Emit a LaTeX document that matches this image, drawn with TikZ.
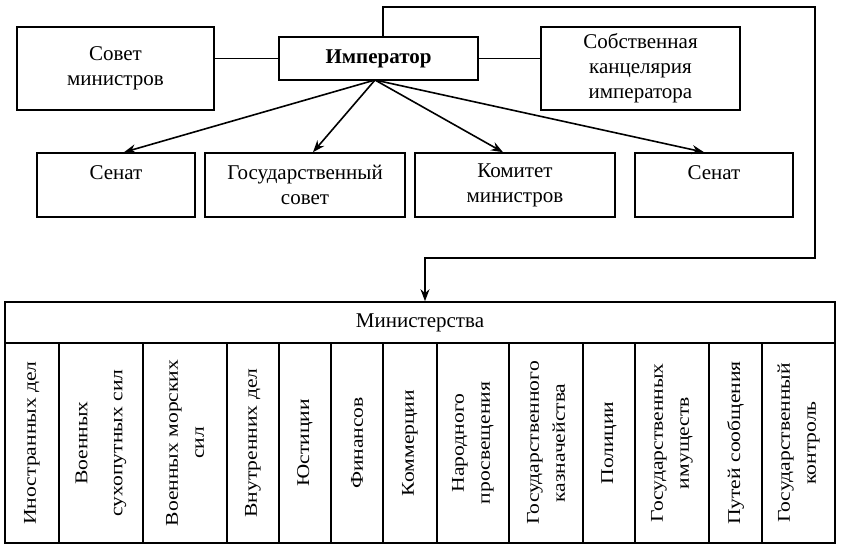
\documentclass[tikz,border=0pt]{standalone}
\usepackage{fontspec}
\setmainfont{Liberation Serif}
\newfontfamily\colfont[FakeStretch=1.2]{Liberation Serif}
\usetikzlibrary{arrows.meta}
\begin{document}
\begin{tikzpicture}[x=1pt,y=-1pt,
  box/.style={draw,line width=1.6pt,inner sep=0pt,align=center,
    font=\fontsize{21}{25}\selectfont},
  colbox/.style={draw,line width=1.6pt,inner sep=0pt,align=center,rotate=90,
    minimum width=200pt,font=\colfont\fontsize{18}{26}\selectfont},
  conn/.style={line width=1.6pt},
  arr/.style={line width=1.6pt,-{Stealth[length=12pt,width=9pt]}}
]
\useasboundingbox (0,0) rectangle (842,552);
\fill[white] (0,0) rectangle (842,552);
% top row
\node[box,minimum width=197pt,minimum height=83pt] (sov) at (115.5,68.5) {Совет\\министров};
\node[box,minimum width=199pt,minimum height=43pt,font=\bfseries\fontsize{21}{25}\selectfont] (imp) at (378.5,58.5) {Император};
\node[box,minimum width=199pt,minimum height=83pt] (kan) at (640.5,68.5) {Собственная\\канцелярия\\императора};
\draw[conn] (imp.west) -- (imp.west -| sov.east);
\draw[conn] (imp.east) -- (imp.east -| kan.west);
% second row
\node[box,minimum width=158pt,minimum height=64pt] (sen1) at (116,185) {Сенат\\\mbox{}};
\node[box,minimum width=200pt,minimum height=64pt] (gs) at (305,185) {Государственный\\совет};
\node[box,minimum width=200pt,minimum height=64pt] (km) at (515,185) {Комитет\\министров};
\node[box,minimum width=158pt,minimum height=64pt] (sen2) at (714,185) {Сенат\\\mbox{}};
\coordinate (hub) at (375,80);
\draw[arr] (hub) -- ([xshift=8]sen1.north);
\draw[arr] (hub) -- ([xshift=8]gs.north);
\draw[arr] (hub) -- ([xshift=-12]km.north);
\draw[arr] (hub) -- ([xshift=-10]sen2.north);
% ministries
\node[box,minimum width=830pt,minimum height=41pt] (hdr) at (420,322.5) {Министерства};
\coordinate (c2) at (815,7);
\coordinate (c3) at (815,258);
\draw[arr] ([xshift=4.5]imp.north) |- (c2) -- (c3) -| ([xshift=5]hdr.north);
\node[colbox,minimum height=54pt] (m1) at (32,443) {Иностранных дел};
\node[colbox,minimum height=84pt] (m2) at (101,443) {Военных\\[9pt]сухопутных сил};
\node[colbox,minimum height=84pt] (m3) at (185,443) {Военных морских\\сил};
\node[colbox,minimum height=52pt] (m4) at (253,443) {Внутренних дел};
\node[colbox,minimum height=52pt] (m5) at (305,443) {Юстиции};
\node[colbox,minimum height=52pt] (m6) at (357,443) {Финансов};
\node[colbox,minimum height=54pt] (m7) at (410,443) {Коммерции};
\node[colbox,minimum height=72pt] (m8) at (473,443) {Народного\\просвещения};
\node[colbox,minimum height=74pt] (m9) at (546,443) {Государственного\\казначейства};
\node[colbox,minimum height=52pt] (m10) at (609,443) {Полиции};
\node[colbox,minimum height=74pt] (m11) at (672,443) {Государственных\\имуществ};
\node[colbox,minimum height=53pt] (m12) at (735.5,443) {Путей сообщения};
\node[colbox,minimum height=73pt] (m13) at (798.5,443) {Государственный\\контроль};
\end{tikzpicture}
\end{document}
